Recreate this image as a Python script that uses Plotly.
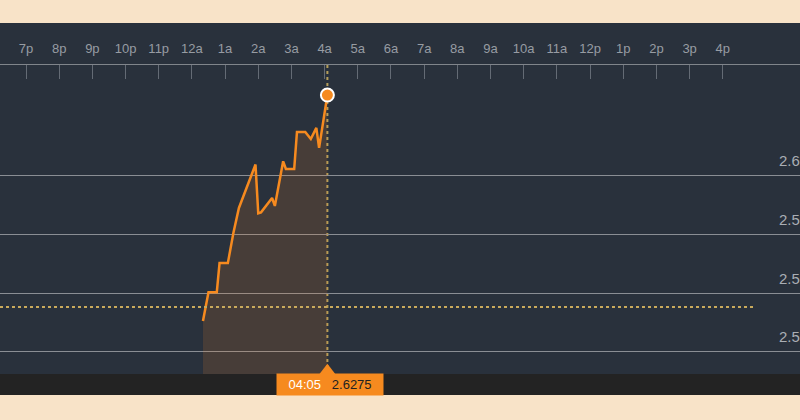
import plotly.graph_objects as go
import pandas as pd

# ---- data ----
times = ["00:20", "00:30", "00:45", "00:50", "01:05", "01:15", "01:25", "01:55",
         "02:00", "02:05", "02:25", "02:30", "02:45", "02:50", "03:05", "03:10",
         "03:25", "03:35", "03:45", "03:50", "04:05"]
values = [2.5505, 2.5603, 2.5603, 2.5702, 2.5702, 2.5805, 2.5890, 2.6038,
          2.5872, 2.5875, 2.5924, 2.5897, 2.6049, 2.6023, 2.6023, 2.6149,
          2.6149, 2.6125, 2.6163, 2.6095, 2.6275]
prev_close = 2.5552
last_label_time = "04:05"
last_label_value = "2.6275"

tick_hours = ["2023-12-31 19:00"] + [str(t) for t in pd.date_range("2023-12-31 20:00", "2024-01-01 16:00", freq="h")]
tick_text = ["7p", "8p", "9p", "10p", "11p", "12a", "1a", "2a", "3a", "4a", "5a", "6a",
             "7a", "8a", "9a", "10a", "11a", "12p", "1p", "2p", "3p", "4p"]
y_grid = [2.54, 2.56, 2.58, 2.60]
# the reference shows these labels cut at the right edge
y_grid_labels = ["2.5", "2.5", "2.5", "2.6"]

x_range = ["2023-12-31 18:12:59", "2024-01-01 18:19:37"]
y_range = [2.5324, 2.63774]
prev_close_end = "2024-01-01 17:00"

day = "2024-01-01 "
xs = [day + t for t in times]

ORANGE = "#f68a1f"
PANEL = "#29313c"
BEIGE = "#f8e3c8"

fig = go.Figure()
fig.add_trace(go.Scatter(
    x=xs, y=values, mode="lines",
    line=dict(color=ORANGE, width=2.5),
    fill="tozeroy", fillcolor="rgba(247,137,31,0.15)",
    hoverinfo="skip", showlegend=False,
))
fig.add_trace(go.Scatter(
    x=[xs[-1]], y=[values[-1]], mode="markers",
    marker=dict(color=ORANGE, size=13, line=dict(color="white", width=2)),
    cliponaxis=False, hoverinfo="skip", showlegend=False,
))
fig.add_trace(go.Scatter(
    x=[xs[-1]], y=[y_range[0] + 0.0009], mode="markers",
    marker=dict(color=ORANGE, size=15, symbol="triangle-up", line=dict(width=0)),
    cliponaxis=False, hoverinfo="skip", showlegend=False,
))

shapes = [
    dict(type="rect", xref="paper", yref="paper", x0=0, x1=1, y0=0, y1=1.1359,
         fillcolor=PANEL, line=dict(width=0), layer="below"),
    dict(type="rect", xref="paper", yref="paper", x0=0, x1=1, y0=-0.068, y1=0,
         fillcolor="#232323", line=dict(width=0), layer="below"),
    dict(type="line", xref="x", yref="y", x0=x_range[0], x1=prev_close_end,
         y0=prev_close, y1=prev_close, line=dict(color="#c9aa5c", width=2, dash="dot"),
         layer="above"),
    dict(type="line", xref="x", yref="paper", x0=xs[-1], x1=xs[-1], y0=0, y1=1,
         line=dict(color="#b59e5a", width=2, dash="dot"), layer="below"),
]

annotations = []
for v, lab in zip(y_grid, y_grid_labels):
    annotations.append(dict(
        x=1, xref="paper", xanchor="right", xshift=2,
        y=v, yref="y", yanchor="middle", yshift=15,
        text=lab, showarrow=False,
        font=dict(family="Liberation Sans", size=15, color="#a9aeb4"),
    ))
annotations.append(dict(
    x=xs[-1], xref="x", xanchor="center", xshift=3,
    y=-0.034, yref="paper", yanchor="middle",
    text=f"<span style='color:white'>{last_label_time}</span>   {last_label_value}",
    showarrow=False, bgcolor=ORANGE, borderpad=3, width=100, height=15,
    font=dict(family="Liberation Sans", size=13, color="#222222"),
))

fig.update_layout(
    width=800, height=420,
    margin=dict(l=0, r=0, t=65, b=46),
    paper_bgcolor=BEIGE, plot_bgcolor=PANEL,
    shapes=shapes, annotations=annotations,
    xaxis=dict(
        type="date", range=x_range, side="top",
        tickvals=tick_hours, ticktext=tick_text,
        ticks="inside", ticklen=14, tickwidth=1, tickcolor="#646b75",
        showline=True, linecolor="#80858b", linewidth=1.5,
        showgrid=False, zeroline=False,
        tickfont=dict(family="Liberation Sans", size=13, color="#979ca3"),
        ticklabelstandoff=5,
    ),
    yaxis=dict(
        range=y_range, tickvals=y_grid, showticklabels=False,
        showgrid=True, gridcolor="#8a8e94", gridwidth=1,
        zeroline=False, showline=False,
    ),
)

fig.write_html(
    "out.html",
    config={"displayModeBar": False, "staticPlot": True},
    post_script="document.body.style.margin='0';document.body.style.overflow='hidden';",
)
